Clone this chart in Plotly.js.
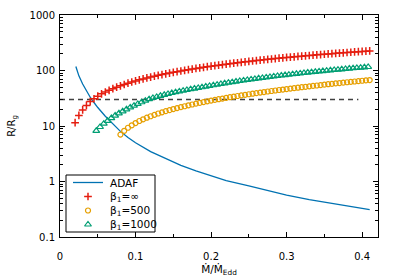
<!DOCTYPE html>
<html>
<head>
<meta charset="utf-8">
<script src="https://cdn.plot.ly/plotly-3.0.1.min.js"></script>
<style>html,body{margin:0;padding:0;background:#fff;}#plot{width:399px;height:279px;}</style>
</head>
<body>
<div id="plot"></div>
<script>
// ---- data ----
const adafX = [0.021,0.025,0.03,0.035,0.04,0.045,0.05,0.06,0.07,0.08,0.09,0.1,0.12,0.14,0.16,0.18,0.2,0.22,0.25,0.28,0.3,0.33,0.36,0.39,0.41];
const adafY = [118,80,57,42,33,26.5,21.5,15,10.8,8.0,6.2,5.0,3.45,2.55,1.95,1.55,1.26,1.04,0.83,0.66,0.57,0.47,0.40,0.34,0.31];

const redX = [0.02,0.025,0.03,0.035,0.04,0.045,0.05,0.055,0.06,0.065,0.07,0.075,0.08,0.085,0.09,0.095,
  0.1,0.105,0.11,0.115,0.12,0.125,0.13,0.135,0.14,0.145,0.15,0.155,0.16,0.165,0.17,0.175,0.18,0.185,0.19,0.195,
  0.2,0.205,0.21,0.215,0.22,0.225,0.23,0.235,0.24,0.245,0.25,0.255,0.26,0.265,0.27,0.275,0.28,0.285,0.29,0.295,
  0.3,0.305,0.31,0.315,0.32,0.325,0.33,0.335,0.34,0.345,0.35,0.355,0.36,0.365,0.37,0.375,0.38,0.385,0.39,0.395,
  0.4,0.405,0.41];
const redY = [11.5,15.5,19.5,23.5,27.5,31,34.5,38,41,44,47,50,53,56,59,62,
  65,67.8,70.6,73.4,76.2,79,81.8,84.5,87.2,89.9,92.6,95.3,98,100.7,103.4,106.1,108.8,111.5,114.2,117,
  119.7,122.3,124.9,127.5,130.1,132.7,135.3,137.9,140.5,143.1,145.7,148.3,150.9,153.5,156.1,158.7,161.3,163.9,166.5,169.1,
  171.7,174.1,176.6,179,181.5,183.9,186.4,188.8,191.3,193.7,196.2,198.6,201.1,203.5,206,208.4,210.9,213.3,215.8,218.2,
  220.7,223.1,225.6];

const orangeX = [0.08,0.085,0.09,0.095,
  0.1,0.105,0.11,0.115,0.12,0.125,0.13,0.135,0.14,0.145,0.15,0.155,0.16,0.165,0.17,0.175,0.18,0.185,0.19,0.195,
  0.2,0.205,0.21,0.215,0.22,0.225,0.23,0.235,0.24,0.245,0.25,0.255,0.26,0.265,0.27,0.275,0.28,0.285,0.29,0.295,
  0.3,0.305,0.31,0.315,0.32,0.325,0.33,0.335,0.34,0.345,0.35,0.355,0.36,0.365,0.37,0.375,0.38,0.385,0.39,0.395,
  0.4,0.405,0.41];
const orangeY = [7.0,8.2,9.3,10.3,
  11.3,12.3,13.2,14.1,15.0,15.9,16.8,17.6,18.5,19.3,20.2,21.0,21.9,22.7,23.6,24.4,25.3,26.1,27.0,27.8,
  28.7,29.5,30.4,31.2,32.1,33.0,33.8,34.7,35.6,36.4,37.3,38.2,39.1,40.0,40.9,41.8,42.7,43.6,44.5,45.4,
  46.3,47.2,48.1,49.0,50.0,50.9,51.8,52.8,53.7,54.7,55.6,56.6,57.5,58.5,59.4,60.4,61.4,62.4,63.3,64.3,
  65.3,66.3,67.3];

const greenX = [0.048,0.053,0.058,0.063,0.068,0.073,0.078,0.083,0.088,0.093,
  0.098,0.103,0.108,0.113,0.118,0.123,0.128,0.133,0.138,0.143,0.148,0.153,0.158,0.163,0.168,0.173,0.178,0.183,0.188,0.193,
  0.198,0.203,0.208,0.213,0.218,0.223,0.228,0.233,0.238,0.243,0.248,0.253,0.258,0.263,0.268,0.273,0.278,0.283,0.288,0.293,
  0.298,0.303,0.308,0.313,0.318,0.323,0.328,0.333,0.338,0.343,0.348,0.353,0.358,0.363,0.368,0.373,0.378,0.383,0.388,0.393,
  0.398,0.403,0.408];
const greenY = [8.2,9.6,11.0,12.4,13.9,15.4,16.9,18.4,20.0,21.6,
  23.3,25.0,26.8,28.6,30.4,32.0,33.5,35.0,36.5,37.9,39.3,40.7,42.0,43.4,44.7,46.0,47.3,48.6,49.9,51.3,
  52.7,54.2,55.7,57.2,58.7,60.2,61.7,63.2,64.7,66.2,67.7,69.2,70.7,72.2,73.7,75.2,76.7,78.2,79.7,81.2,
  82.7,84.2,85.7,87.2,88.7,90.2,91.7,93.2,94.7,96.2,97.7,99.2,100.7,102.2,103.7,105.2,106.7,108.2,109.7,111.2,
  112.7,114.2,115.7];

const refX = [0, 0.395];
const refY = [30, 30];

const xTickVals = [0, 0.1, 0.2, 0.3, 0.4];
const xTickText = ['0', '0.1', '0.2', '0.3', '0.4'];
const yTickVals = [0.1, 1, 10, 100, 1000];
const yTickText = ['0.1', '1', '10', '100', '1000'];
const legendLabels = ['ADAF', 'β<sub>1</sub>=∞', 'β<sub>1</sub>=500', 'β<sub>1</sub>=1000'];

// ---- styles ----
const cBlue = '#0072b2', cRed = '#e51e10', cOrange = '#e69f00', cGreen = '#009e73', cDash = '#404040';
const FONT = 'DejaVu Sans, sans-serif';

const yMinor = [];
[0.1, 1, 10, 100].forEach(d => { for (let k = 2; k <= 9; k++) yMinor.push(d * k); });

// plot area in px: left 60, right 378, top 15, bottom 237
const L = 60, R = 378, T = 15, B = 237;
const px = v => (v - L) / (R - L);
const py = v => (B - v) / (B - T);

const legRows = [182.5, 196.5, 210.5, 224.5];
const symX = 88;

const mRed = {symbol: 'cross-thin-open', size: 5.5, color: cRed, line: {width: 1.5, color: cRed}};
const mOrange = {symbol: 'circle-open', size: 5, color: cOrange, line: {width: 1.2, color: cOrange}};
const mGreen = {symbol: 'triangle-up-open', size: 6, color: cGreen, line: {width: 1.2, color: cGreen}};

const traces = [
  {x: adafX, y: adafY, type: 'scatter', mode: 'lines', line: {color: cBlue, width: 1.3}, showlegend: false, hoverinfo: 'skip'},
  {x: refX, y: refY, type: 'scatter', mode: 'lines', line: {color: cDash, width: 1.5, dash: '5px,4px'}, showlegend: false, hoverinfo: 'skip'},
  {x: orangeX, y: orangeY, type: 'scatter', mode: 'markers', marker: mOrange, showlegend: false},
  {x: greenX, y: greenY, type: 'scatter', mode: 'markers', marker: mGreen, showlegend: false},
  {x: redX, y: redY, type: 'scatter', mode: 'markers', marker: mRed, showlegend: false},
  // legend symbols on an overlay axis
  {x: [px(73), px(103)], y: [py(legRows[0]), py(legRows[0])], xaxis: 'x2', yaxis: 'y2', mode: 'lines', line: {color: cBlue, width: 1.3}, showlegend: false, hoverinfo: 'skip'},
  {x: [px(symX)], y: [py(legRows[1])], xaxis: 'x2', yaxis: 'y2', mode: 'markers', marker: mRed, showlegend: false, hoverinfo: 'skip'},
  {x: [px(symX)], y: [py(legRows[2])], xaxis: 'x2', yaxis: 'y2', mode: 'markers', marker: mOrange, showlegend: false, hoverinfo: 'skip'},
  {x: [px(symX)], y: [py(legRows[3])], xaxis: 'x2', yaxis: 'y2', mode: 'markers', marker: mGreen, showlegend: false, hoverinfo: 'skip'}
];

const annotations = legendLabels.map((t, i) => ({
  xref: 'paper', yref: 'paper', x: px(108), y: py(legRows[i]), xanchor: 'left', yanchor: 'middle',
  text: t, showarrow: false, font: {family: FONT, size: 10.5, color: '#000'}
}));

const layout = {
  width: 399, height: 279,
  margin: {l: L, r: 399 - R, t: T, b: 279 - B},
  paper_bgcolor: '#fff', plot_bgcolor: '#fff',
  font: {family: FONT, size: 10, color: '#000'},
  showlegend: false,
  xaxis: {
    range: [0, 0.421], showgrid: false, zeroline: false,
    showline: true, linecolor: '#000', linewidth: 1, mirror: 'allticks',
    ticks: 'inside', ticklen: 5, tickwidth: 1, tickcolor: '#000',
    tickmode: 'array', tickvals: xTickVals, ticktext: xTickText,
    ticklabelstandoff: 10,
    minor: {ticks: 'inside', ticklen: 3, tickwidth: 1, tickcolor: '#000', tickmode: 'array', tickvals: [0.05, 0.15, 0.25, 0.35], showgrid: false},
    title: {text: 'Ṁ/Ṁ<sub>Edd</sub>', font: {family: FONT, size: 10.5}, standoff: 4},
    tickfont: {family: FONT, size: 10}
  },
  yaxis: {
    type: 'log', range: [-1, 3], showgrid: false, zeroline: false,
    showline: true, linecolor: '#000', linewidth: 1, mirror: 'allticks',
    ticks: 'inside', ticklen: 5, tickwidth: 1, tickcolor: '#000',
    tickmode: 'array', tickvals: yTickVals, ticktext: yTickText,
    ticklabelstandoff: 2,
    minor: {ticks: 'inside', ticklen: 3, tickwidth: 1, tickcolor: '#000', tickmode: 'array', tickvals: yMinor, showgrid: false},
    title: {text: 'R/R<sub>g</sub>', font: {family: FONT, size: 10}, standoff: 12},
    tickfont: {family: FONT, size: 10}
  },
  xaxis2: {overlaying: 'x', range: [0, 1], visible: false, fixedrange: true},
  yaxis2: {overlaying: 'y', range: [0, 1], visible: false, fixedrange: true},
  shapes: [{
    type: 'rect', xref: 'paper', yref: 'paper',
    x0: px(66), x1: px(155), y0: py(232), y1: py(175),
    line: {color: '#000', width: 1}, fillcolor: '#fff', layer: 'below'
  }],
  annotations: annotations
};

Plotly.newPlot('plot', traces, layout, {staticPlot: true, displayModeBar: false});
</script>
</body>
</html>
